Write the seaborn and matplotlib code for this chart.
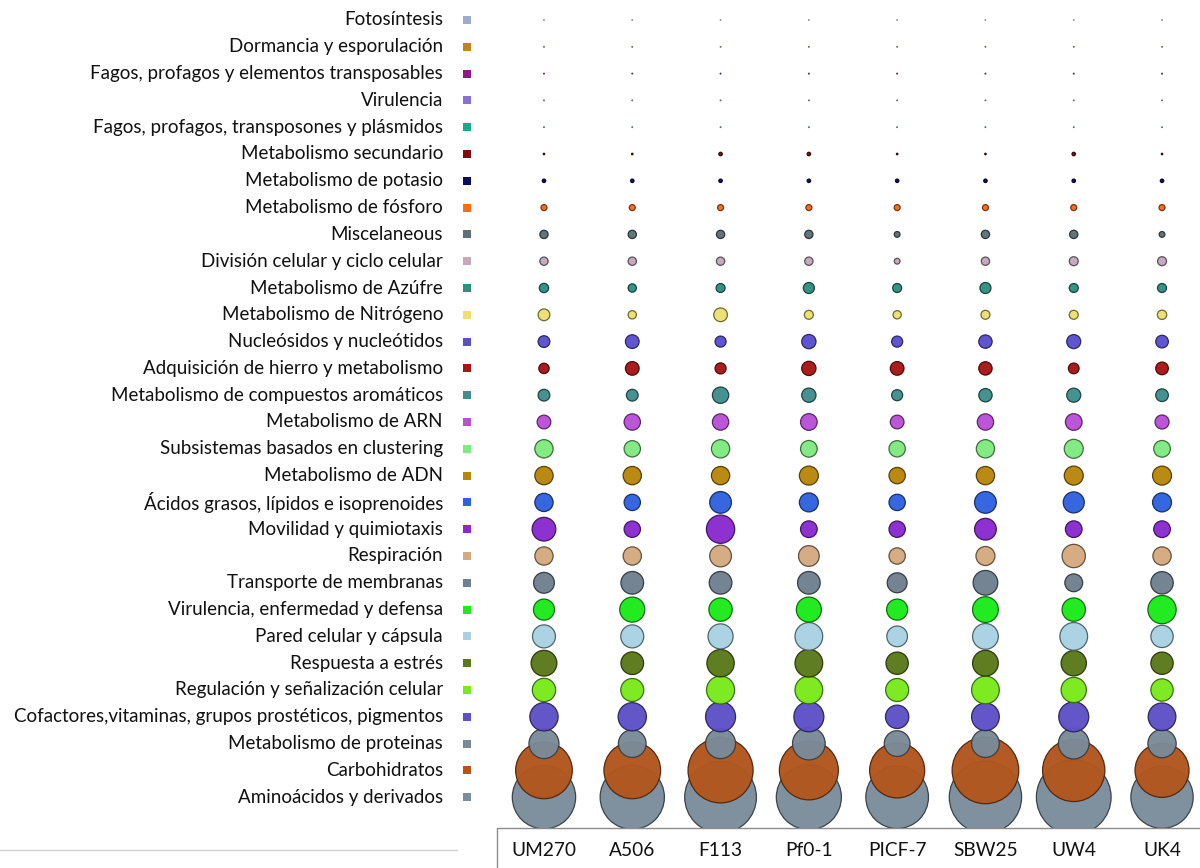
import numpy as np
import pandas as pd
import matplotlib
matplotlib.use("Agg")
import matplotlib.pyplot as plt
import matplotlib.colors as mcolors
from matplotlib.lines import Line2D
import seaborn as sns

# Strains (columns) and RAST subsystem categories (rows, top to bottom)
strains = ["UM270", "A506", "F113", "Pf0-1", "PICF-7", "SBW25", "UW4", "UK4"]

categories = [
    "Fotosíntesis",
    "Dormancia y esporulación",
    "Fagos, profagos y elementos transposables",
    "Virulencia",
    "Fagos, profagos, transposones y plásmidos",
    "Metabolismo secundario",
    "Metabolismo de potasio",
    "Metabolismo de fósforo",
    "Miscelaneous",
    "División celular y ciclo celular",
    "Metabolismo de Azúfre",
    "Metabolismo de Nitrógeno",
    "Nucleósidos y nucleótidos",
    "Adquisición de hierro y metabolismo",
    "Metabolismo de compuestos aromáticos",
    "Metabolismo de ARN",
    "Subsistemas basados en clustering",
    "Metabolismo de ADN",
    "Ácidos grasos, lípidos e isoprenoides",
    "Movilidad y quimiotaxis",
    "Respiración",
    "Transporte de membranas",
    "Virulencia, enfermedad y defensa",
    "Pared celular y cápsula",
    "Respuesta a estrés",
    "Regulación y señalización celular",
    "Cofactores,vitaminas, grupos prostéticos, pigmentos",
    "Metabolismo de proteinas",
    "Carbohidratos",
    "Aminoácidos y derivados",
]

category_colors = [
    "#9dabd0", "#c87f1e", "#8b1a8b", "#8a6fd8", "#1aa88a",
    "#7a0d0d", "#0b0b5e", "#ff6a14", "#5f6f78", "#c4a8be",
    "#2e8f80", "#ebe070", "#5a4fd0", "#a81414", "#3f8f8c",
    "#bb4fd8", "#80ea80", "#b8860b", "#2f62e0", "#8a2ad0",
    "#d4aa80", "#6f8090", "#1aeb1a", "#a8d2e2", "#5a7a1a",
    "#7aeb1a", "#5e50c8", "#7a8a98", "#b2561e", "#7b8d9c",
]

# Gene counts per subsystem for each strain, in the row order above
um270 = [4, 5, 6, 5, 5, 13, 30, 52, 72, 72, 81, 102, 102, 90, 102, 119, 159, 159, 159, 206,
         159, 181, 183, 200, 224, 203, 246, 261, 493, 551]
a506 = [4, 5, 6, 5, 5, 13, 30, 52, 72, 72, 72, 72, 119, 119, 102, 142, 142, 159, 142, 142,
        159, 197, 218, 200, 197, 200, 246, 241, 493, 559]
f113 = [4, 5, 6, 5, 5, 30, 30, 52, 72, 72, 78, 119, 96, 96, 142, 142, 159, 159, 189, 246,
        189, 197, 203, 218, 238, 244, 261, 261, 566, 624]
pf0_1 = [4, 5, 6, 5, 5, 30, 30, 52, 72, 72, 96, 78, 124, 124, 124, 145, 145, 165, 165, 145,
         180, 197, 218, 241, 241, 241, 261, 284, 513, 566]
picf_7 = [4, 5, 6, 5, 5, 13, 30, 52, 50, 50, 78, 72, 96, 119, 96, 119, 142, 142, 142, 142,
          142, 173, 183, 180, 194, 200, 203, 224, 479, 545]
sbw25 = [4, 5, 6, 5, 5, 13, 30, 52, 72, 72, 96, 78, 116, 116, 116, 142, 159, 159, 189, 189,
         165, 215, 224, 224, 224, 241, 241, 241, 580, 629]
uw4 = [4, 5, 6, 5, 5, 30, 30, 52, 72, 78, 78, 78, 122, 93, 122, 145, 165, 165, 183, 145,
       203, 155, 203, 241, 220, 220, 261, 267, 542, 650]
uk4 = [4, 5, 6, 5, 5, 13, 30, 52, 50, 78, 78, 81, 110, 110, 110, 122, 145, 165, 165, 145,
       159, 195, 246, 194, 194, 194, 241, 246, 470, 542]

strain_counts = [um270, a506, f113, pf0_1, picf_7, sbw25, uw4, uk4]

# Long table; rows ordered bottom-up so lower bubbles are drawn first
records = []
for ci in range(len(categories) - 1, -1, -1):
    for si, s in enumerate(strains):
        records.append((s, categories[ci], strain_counts[si][ci]))
df = pd.DataFrame(records, columns=["cepa", "subsistema", "genes"])
df["cepa"] = pd.Categorical(df["cepa"], categories=strains)
df["subsistema"] = pd.Categorical(df["subsistema"], categories=categories)
# bubble width proportional to the count -> area proportional to count squared
df["area"] = df["genes"].astype(float) ** 2

palette = dict(zip(categories, category_colors))

sns.set_theme(style="white")
plt.rcParams["font.family"] = ["Lato", "DejaVu Sans"]

W, H = 1200, 868
fig = plt.figure(figsize=(W / 100, H / 100), dpi=100)
fig.patch.set_facecolor("white")

ax_bottom_px = 828
ax = fig.add_axes([497 / W, (H - ax_bottom_px) / H, (W - 497) / W, ax_bottom_px / H])
ax_leg = fig.add_axes([0, (H - ax_bottom_px) / H, 497 / W, ax_bottom_px / H])

vmax = 800.0
dmax_pt = vmax / 8.7 * 0.72
sns.scatterplot(
    data=df, x="cepa", y="subsistema", hue="subsistema", palette=palette,
    size="area", sizes=(0, dmax_pt ** 2), size_norm=(0, vmax ** 2),
    legend=False, ax=ax, alpha=0.97,
)

pts = ax.collections[0]
edge = [tuple(np.array(mcolors.to_rgb(palette[c])) * 0.45) for c in df["subsistema"]]
pts.set_edgecolors(edge)
pts.set_linewidths(0.9)

row_top = -20 / 26.8
row_bot = (ax_bottom_px - 20) / 26.8
ax.set_ylim(row_bot, row_top)
ax.set_xlim(-0.532, 7.43)
ax.set_xlabel("")
ax.set_ylabel("")
ax.set_yticks([])
ax.tick_params(axis="x", length=0, pad=10, labelsize=13.8, colors="#111111")
for sp in ax.spines.values():
    sp.set_visible(False)
ax.set_facecolor("none")

# Category labels with colour keys
key_df = pd.DataFrame({"x": [467] * len(categories),
                       "subsistema": pd.Categorical(categories, categories=categories)})
sns.scatterplot(data=key_df, x="x", y="subsistema", hue="subsistema", palette=palette,
                marker="s", s=34, linewidth=0, legend=False, ax=ax_leg)
ax_leg.set_xlim(0, 497)
ax_leg.set_ylim(row_bot, row_top)
for j, name in enumerate(categories):
    ax_leg.text(443, j, name, ha="right", va="center", fontsize=13.5, color="#111111")
ax_leg.axis("off")

# Frame around the strain labels and separator line
fig.add_artist(Line2D([497 / W, 1.0], [(H - ax_bottom_px) / H] * 2,
                      transform=fig.transFigure, color="#8c8c8c", lw=1.0))
fig.add_artist(Line2D([497 / W] * 2, [0, (H - ax_bottom_px) / H],
                      transform=fig.transFigure, color="#8c8c8c", lw=1.0))
fig.add_artist(Line2D([0, 457 / W], [(H - 850) / H] * 2,
                      transform=fig.transFigure, color="#cfcfcf", lw=1.0))

fig.savefig("out.png", dpi=100, facecolor="white")
